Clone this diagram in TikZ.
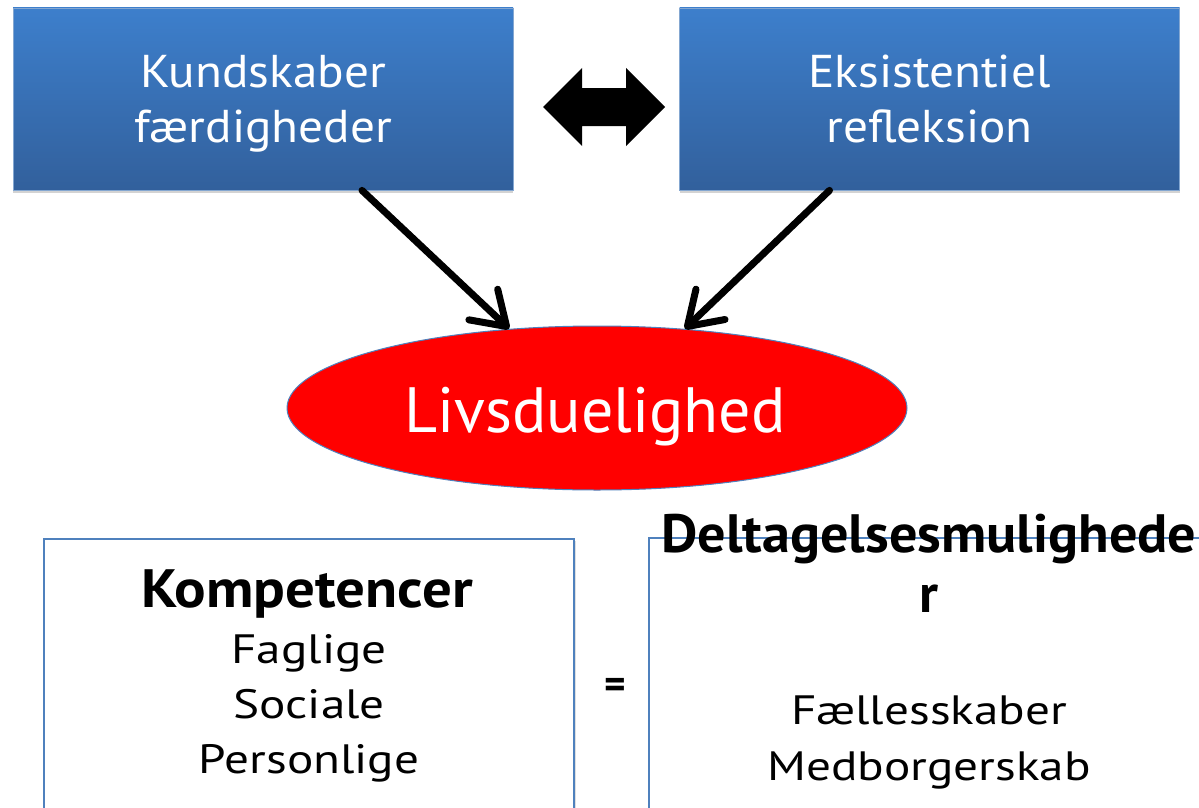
\documentclass[tikz,border=0pt]{standalone}
\usepackage{fontspec}
\setmainfont{PT Sans}
\usetikzlibrary{shapes.geometric,arrows.meta,shadows}
\definecolor{boxtop}{RGB}{61,127,204}
\definecolor{boxbot}{RGB}{50,96,156}
\definecolor{edgeblue}{RGB}{79,129,189}
\definecolor{ellred}{RGB}{255,0,0}
\tikzset{
  topbox/.style={rectangle, draw=edgeblue!70!white, line width=0.8pt, top color=boxtop, bottom color=boxbot,
    minimum width=500pt, minimum height=182pt, inner sep=0pt,
    drop shadow={shadow xshift=0pt, shadow yshift=-3pt, opacity=0.35}},
  toptext/.style={text=white, anchor=base, font=\fontsize{46}{48}\selectfont, inner sep=0pt, xscale=1.07},
  plainbox/.style={rectangle, draw=edgeblue, line width=1.2pt, fill=white, inner sep=0pt,
    drop shadow={shadow xshift=2pt, shadow yshift=-2pt, opacity=0.25}},
  headtext/.style={anchor=base, font=\bfseries\fontsize{54}{56}\selectfont, inner sep=0pt},
  listtext/.style={anchor=base, font=\fontsize{41}{43}\selectfont, inner sep=0pt, xscale=1.2},
  conn/.style={line width=7pt, line cap=round, -{Straight Barb[length=32pt,width=42pt,line cap=round,line join=round]}},
}
\begin{document}
\begin{tikzpicture}[x=1pt,y=-1pt]
\useasboundingbox (0,0) rectangle (1199,808);
\clip (0,0) rectangle (1199,808);
% top boxes
\node[topbox] (kf) at (263,99) {};
\node[topbox] (er) at (929.5,99) {};
\node[toptext] (kf1) at (263,88) {Kundskaber};
\node[toptext] (kf2) at (263,142) {færdigheder};
\node[toptext] (er1) at (929.5,88) {Eksistentiel};
\node[toptext] (er2) at (929.5,142) {refleksion};
% double arrow between the boxes
\fill[black] (543,107) -- (582,68) -- (582,88) -- (626,88) -- (626,68) -- (665,107)
  -- (626,146) -- (626,126) -- (582,126) -- (582,146) -- cycle;
% ellipse
\node[ellipse, draw=edgeblue, line width=1pt, fill=ellred, minimum width=620pt, minimum height=164pt, inner sep=0pt] (liv) at (597,408) {};
\node[anchor=base, text=white, font=\fontsize{64}{66}\selectfont, inner sep=0pt] (livt) at (595,432) {Livsduelighed};
% arrows
\draw[conn] ([xshift=99pt]kf.south) -- (liv.138);
\draw[conn] ([xshift=-100pt]er.south) -- (liv.42);
% bottom boxes
\node[plainbox, minimum width=530pt, minimum height=320pt] (komp) at (309,699) {};
\node[plainbox, minimum width=600pt, minimum height=320pt] (delt) at (949,698) {};
\node[headtext, xscale=1.09] (kt) at (307,607) {Kompetencer};
\node[listtext] (k1) at (309,663) {Faglige};
\node[listtext] (k2) at (309,718) {Sociale};
\node[listtext] (k3) at (309,773) {Personlige};
\node[anchor=base, font=\bfseries\fontsize{41}{43}\selectfont, inner sep=0pt] (eq) at (615,698) {=};
\node[headtext, xscale=1.04] (dt1) at (929,552) {Deltagelsesmulighede};
\node[headtext] (dt2) at (929,612) {r};
\node[listtext] (d1) at (929,724) {Fællesskaber};
\node[listtext] (d2) at (929,780) {Medborgerskab};
\end{tikzpicture}
\end{document}
